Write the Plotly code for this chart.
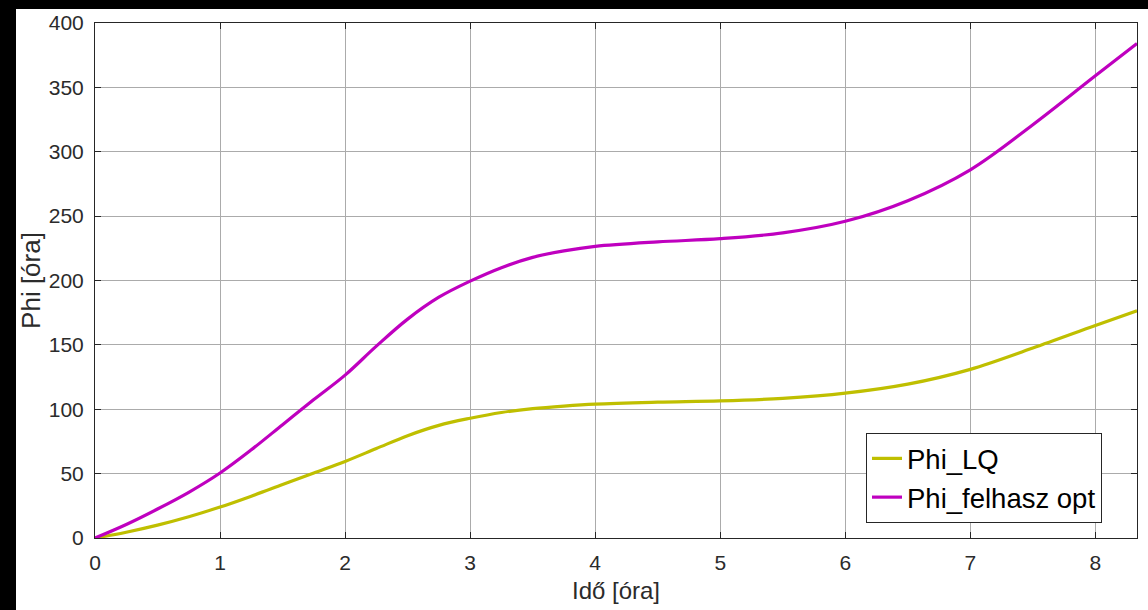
import plotly.graph_objects as go

# Time [hours]
t = [0, 0.25, 0.5, 0.75, 1.0, 1.25, 1.5, 1.75, 2.0, 2.25, 2.5, 2.75, 3.0,
     3.25, 3.5, 3.75, 4.0, 4.5, 5.0, 5.5, 6.0, 6.5, 7.0, 7.5, 8.0, 8.333]

phi_lq = [0, 4.5, 10, 16.5, 24, 32.5, 41.5, 50.5, 59.5, 69.5, 79.5, 87.5, 93,
          97.5, 100.5, 102.5, 104, 105.5, 106.5, 108.5, 112.5, 119.5, 131, 147.5, 165, 176.5]

phi_opt = [0, 10.5, 22.5, 35.5, 50.5, 68.5, 88, 107.5, 126.5, 149, 170, 187, 199.5,
           210, 218, 223, 226.5, 230, 232.5, 237, 246, 262, 286, 321, 359, 384]

x_ticks = [0, 1, 2, 3, 4, 5, 6, 7, 8]
y_ticks = [0, 50, 100, 150, 200, 250, 300, 350, 400]

FONT = "Liberation Sans, Arial, sans-serif"
AX = "#262626"
TXT = "#2b2b2b"
GRID = "#ababab"

fig = go.Figure()
fig.add_trace(go.Scatter(x=t, y=phi_lq, mode="lines", name="Phi_LQ",
                         line=dict(color="#BFBF00", width=3.2, shape="spline", smoothing=1.0)))
fig.add_trace(go.Scatter(x=t, y=phi_opt, mode="lines", name="Phi_felhasz opt",
                         line=dict(color="#BF00BF", width=3.2, shape="spline", smoothing=1.0)))

# plot area geometry (px)
L, R, T, B = 95, 11, 23, 72
W, H = 1148, 610
pw, ph = W - L - R, H - T - B

def px(xp):
    return (xp - L) / pw

def py(yp):
    return (H - B - yp) / ph

# black strips at left and top edge of the picture
fig.add_shape(type="rect", xref="paper", yref="paper", x0=px(-2), x1=px(16), y0=py(H + 2), y1=py(-2),
              fillcolor="black", line_width=0, layer="above")
fig.add_shape(type="rect", xref="paper", yref="paper", x0=px(-2), x1=px(W + 2), y0=py(9), y1=py(-2),
              fillcolor="black", line_width=0, layer="above")

fig.update_layout(
    width=W, height=H,
    margin=dict(l=L, r=R, t=T, b=B, pad=0),
    paper_bgcolor="white", plot_bgcolor="white",
    font=dict(family=FONT, color=TXT, size=21),
    showlegend=True,
    legend=dict(x=px(866), y=py(433), xanchor="left", yanchor="top",
                bgcolor="white", bordercolor=AX, borderwidth=1,
                font=dict(family=FONT, size=27.5, color="black"),
                itemwidth=30, tracegroupgap=0),
)

fig.update_xaxes(
    range=[0, 8.333], tickvals=x_ticks, ticktext=[str(v) for v in x_ticks],
    showgrid=True, gridcolor=GRID, gridwidth=1,
    showline=True, linecolor=AX, linewidth=1, mirror="ticks",
    ticks="inside", ticklen=6, tickcolor=AX,
    tickfont=dict(family=FONT, size=21, color=TXT),
    ticklabelstandoff=6,
    zeroline=False,
    title=dict(text="Idő [óra]", font=dict(family=FONT, size=24, color=TXT), standoff=8),
)
fig.update_yaxes(
    range=[0, 400], tickvals=y_ticks, ticktext=[str(v) for v in y_ticks],
    showgrid=True, gridcolor=GRID, gridwidth=1,
    showline=True, linecolor=AX, linewidth=1, mirror="ticks",
    ticks="inside", ticklen=6, tickcolor=AX,
    tickfont=dict(family=FONT, size=21, color=TXT),
    ticklabelstandoff=6,
    zeroline=False,
    title=dict(text="Phi [óra]", font=dict(family=FONT, size=26, color=TXT), standoff=0),
)

fig.write_html("out.html",
               config={"displayModeBar": False},
               post_script="document.body.style.margin='0px';document.body.style.background='white';")
